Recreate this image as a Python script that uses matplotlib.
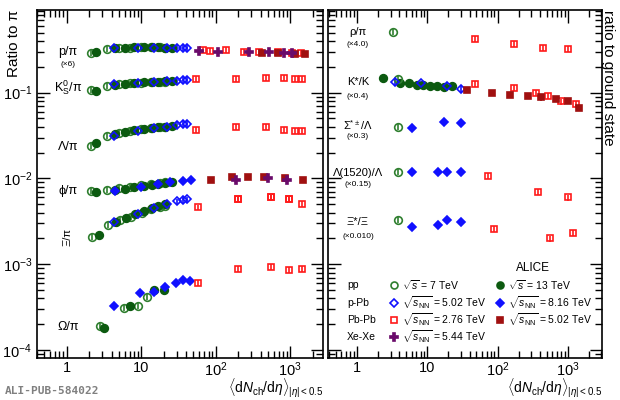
import math
import matplotlib
matplotlib.use("Agg")
import matplotlib.pyplot as plt
from matplotlib.ticker import FixedLocator, FuncFormatter, LogLocator, NullFormatter

plt.rcParams['font.family'] = ['Liberation Sans', 'DejaVu Sans']
plt.rcParams['mathtext.fontset'] = 'custom'
plt.rcParams['mathtext.rm'] = 'Liberation Sans'
plt.rcParams['mathtext.it'] = 'Liberation Sans:italic'

# ---------------- data (left panel: ratio to pi) ----------------
ppi_pp7 = ([2.1, 3.5, 5.0, 7.0, 10.0, 13.5, 18.0, 21.0], [0.29, 0.325, 0.33, 0.335, 0.34, 0.34, 0.34, 0.335])
ppi_pp13 = ([2.45, 4.5, 6.0, 8.0, 11.0, 14.0, 17.0, 21.0, 26.0], [0.30, 0.33, 0.335, 0.34, 0.34, 0.34, 0.34, 0.335, 0.335])
ppi_pPb5 = ([4.3, 9.0, 15.0, 22.0, 30.0, 36.0, 41.0], [0.33, 0.335, 0.33, 0.33, 0.335, 0.335, 0.33])
ppi_PbPb276 = ([68, 85, 137, 240, 380, 690, 1050, 1400], [0.316, 0.31, 0.316, 0.30, 0.30, 0.296, 0.29, 0.288])
ppi_PbPb502 = ([420, 690, 1150, 1600], [0.29, 0.29, 0.285, 0.28])
ppi_XeXe = ([59, 106, 280, 520, 830, 1050], [0.31, 0.30, 0.30, 0.295, 0.29, 0.29])

k0_pp7 = ([2.1, 3.5, 5.0, 7.0, 10.0, 13.5, 18.0, 21.0], [0.108, 0.12, 0.125, 0.128, 0.13, 0.132, 0.133, 0.134])
k0_pp13 = ([2.45, 4.5, 6.0, 8.0, 11.0, 14.0, 17.0, 21.0, 26.0], [0.106, 0.122, 0.126, 0.13, 0.132, 0.133, 0.134, 0.135, 0.136])
k0_pPb5 = ([4.3, 9.0, 15.0, 22.0, 30.0, 36.0, 41.0], [0.125, 0.13, 0.133, 0.136, 0.138, 0.14, 0.14])
k0_PbPb276 = ([55, 190, 470, 830, 1150, 1450], [0.146, 0.145, 0.15, 0.147, 0.146, 0.146])

lam_pp7 = ([2.1, 3.5, 5.0, 7.0, 10.0, 13.5, 18.0, 21.0], [0.024, 0.031, 0.034, 0.036, 0.038, 0.039, 0.040, 0.040])
lam_pp13 = ([2.45, 4.5, 6.0, 8.0, 11.0, 14.0, 17.0, 21.0, 26.0], [0.026, 0.033, 0.035, 0.037, 0.038, 0.039, 0.040, 0.040, 0.041])
lam_pPb5 = ([4.3, 9.0, 15.0, 22.0, 30.0, 36.0, 41.0], [0.031, 0.036, 0.039, 0.040, 0.042, 0.043, 0.043])
lam_PbPb276 = ([55, 190, 470, 830, 1150, 1450], [0.037, 0.040, 0.040, 0.037, 0.036, 0.036])

phi_pp7 = ([2.1, 3.5, 5.0, 7.0, 10.0, 13.5, 18.0, 21.0], [0.0072, 0.0074, 0.0077, 0.008, 0.0083, 0.0086, 0.0088, 0.009])
phi_pp13 = ([2.45, 4.5, 6.0, 8.0, 11.0, 14.0, 17.0, 21.0, 26.0], [0.0069, 0.0073, 0.0076, 0.0079, 0.0082, 0.0085, 0.0087, 0.0089, 0.009])
phi_pPb8 = ([4.4, 10.0, 17.0, 24.0, 36.0, 46.0], [0.0072, 0.0080, 0.0086, 0.0090, 0.0093, 0.0095])
phi_PbPb276 = ([200, 550, 950], [0.0057, 0.006, 0.0057])
phi_PbPb502 = ([86, 165, 270, 450, 840, 1470], [0.0095, 0.0103, 0.0103, 0.0105, 0.0100, 0.0095])
phi_XeXe = ([190, 500, 900], [0.0095, 0.0100, 0.0095])

xi_pp7 = ([2.2, 3.6, 5.2, 7.2, 10.2, 13.5, 18.0, 21.0], [0.0021, 0.0029, 0.0033, 0.0036, 0.0040, 0.0044, 0.0047, 0.0048])
xi_pp13 = ([2.7, 4.6, 6.2, 8.2, 11.0, 14.0, 17.0, 21.0], [0.0022, 0.0031, 0.0035, 0.0038, 0.0042, 0.0045, 0.0048, 0.0050])
xi_pPb5 = ([4.3, 9.0, 15.0, 22.0, 30.0, 36.0, 41.0], [0.0031, 0.0038, 0.0045, 0.0050, 0.0054, 0.0056, 0.0057])
xi_PbPb276 = ([57, 200, 550, 950, 1450], [0.0046, 0.0058, 0.006, 0.0058, 0.0051])

om_pp7 = ([2.8, 5.8, 9.0, 12.0], [0.00019, 0.00031, 0.00033, 0.00042])
om_pp13 = ([3.2, 7.0, 14.7, 20.0], [0.00018, 0.00033, 0.00050, 0.00050])
om_pPb8 = ([4.3, 9.6, 14.7, 21.0, 29.0, 36.0, 45.0], [0.00033, 0.00046, 0.00048, 0.00055, 0.0006, 0.00065, 0.00064])
om_PbPb276 = ([57, 200, 550, 950, 1450], [0.0006, 0.00088, 0.00093, 0.00086, 0.00089])

# ---------------- data (right panel: ratio to ground state, scaled) ----------------
rho_pp7 = ([3.2], [0.51])
rho_PbPb276 = ([47, 170, 440, 1000], [0.42, 0.37, 0.33, 0.32])

ks_pp7 = ([3.85], [0.145])
ks_pp13 = ([2.35, 4.1, 5.5, 7.2, 8.8, 11.0, 13.9, 17.5, 22.7], [0.149, 0.130, 0.13, 0.124, 0.124, 0.12, 0.12, 0.117, 0.12])
ks_pPb5 = ([3.5, 8.2, 19.0, 30.5], [0.134, 0.128, 0.12, 0.111])
ks_PbPb276 = ([47, 170, 350, 530, 790, 1300], [0.127, 0.114, 0.10, 0.092, 0.079, 0.074])
ks_PbPb502 = ([37, 82, 150, 270, 420, 670, 1000, 1450], [0.108, 0.10, 0.095, 0.092, 0.088, 0.085, 0.081, 0.067])

sig_pp7 = ([3.85], [0.040])
sig_pPb5 = ([6.1, 17.0, 30.5], [0.039, 0.045, 0.044])

l1520_pp7 = ([3.85], [0.012])
l1520_pPb5 = ([6.1, 14.0, 19.0, 30.5], [0.0118, 0.0118, 0.0118, 0.0118])
l1520_PbPb276 = ([72, 370, 1000], [0.0106, 0.0069, 0.0060])

xis_pp7 = ([3.85], [0.0033])
xis_pPb5 = ([6.1, 14.0, 19.0, 30.5], [0.0027, 0.0029, 0.0033, 0.0031])
xis_PbPb276 = ([88, 550, 1200], [0.0026, 0.0020, 0.0023])

# ---------------- styles ----------------
GREEN7 = '#2f7f2f'
GREEN13 = '#0c5a10'
BLUE = '#1010ff'
RED = '#ff1a1a'
DRED = '#a01010'
PURP = '#6a0a6a'
styles = {
    'pp7': dict(marker='o', mfc='none', mec=GREEN7, color=GREEN7, ms=5.5),
    'pp13': dict(marker='o', mfc=GREEN13, mec=GREEN13, color=GREEN13, ms=5.5),
    'pPb5': dict(marker='D', mfc='none', mec=BLUE, color=BLUE, ms=4.5),
    'pPb8': dict(marker='D', mfc=BLUE, mec=BLUE, color=BLUE, ms=4.5),
    'PbPb276': dict(marker='s', mfc='none', mec=RED, color=RED, ms=4.5),
    'PbPb502': dict(marker='s', mfc=DRED, mec=DRED, color=DRED, ms=4.5),
    'XeXe': dict(marker='P', mfc=PURP, mec=PURP, color=PURP, ms=6),
}

def draw(ax, data, key):
    x, y = data
    st = styles[key]
    yerr = [v * 0.08 for v in y]
    ax.errorbar(x, y, yerr=yerr, fmt='none', ecolor=st['color'], elinewidth=1.2, capsize=0, zorder=3)
    ax.plot(x, y, linestyle='none', marker=st['marker'], mfc=st['mfc'], mec=st['mec'],
            ms=st['ms'], mew=1.2, zorder=4)

fig = plt.figure(figsize=(6.2, 4.0), dpi=100)
W, H = 620, 400
axL = fig.add_axes([37 / W, (H - 358) / H, 286 / W, 348 / H])
axR = fig.add_axes([328 / W, (H - 358) / H, 274 / W, 348 / H])

for d, k in [(ppi_pp7, 'pp7'), (ppi_pp13, 'pp13'), (ppi_pPb5, 'pPb5'), (ppi_PbPb276, 'PbPb276'),
             (ppi_PbPb502, 'PbPb502'), (ppi_XeXe, 'XeXe'),
             (k0_pp7, 'pp7'), (k0_pp13, 'pp13'), (k0_pPb5, 'pPb5'), (k0_PbPb276, 'PbPb276'),
             (lam_pp7, 'pp7'), (lam_pp13, 'pp13'), (lam_pPb5, 'pPb5'), (lam_PbPb276, 'PbPb276'),
             (phi_pp7, 'pp7'), (phi_pp13, 'pp13'), (phi_pPb8, 'pPb8'), (phi_PbPb276, 'PbPb276'),
             (phi_PbPb502, 'PbPb502'), (phi_XeXe, 'XeXe'),
             (xi_pp7, 'pp7'), (xi_pp13, 'pp13'), (xi_pPb5, 'pPb5'), (xi_PbPb276, 'PbPb276'),
             (om_pp7, 'pp7'), (om_pp13, 'pp13'), (om_pPb8, 'pPb8'), (om_PbPb276, 'PbPb276')]:
    draw(axL, d, k)

for d, k in [(rho_pp7, 'pp7'), (rho_PbPb276, 'PbPb276'),
             (ks_pp13, 'pp13'), (ks_pp7, 'pp7'), (ks_pPb5, 'pPb5'), (ks_PbPb276, 'PbPb276'), (ks_PbPb502, 'PbPb502'),
             (sig_pp7, 'pp7'), (sig_pPb5, 'pPb8'),
             (l1520_pp7, 'pp7'), (l1520_pPb5, 'pPb8'), (l1520_PbPb276, 'PbPb276'),
             (xis_pp7, 'pp7'), (xis_pPb5, 'pPb8'), (xis_PbPb276, 'PbPb276')]:
    draw(axR, d, k)

def xfmt(v, p):
    if abs(v - 1) < 1e-9:
        return '1'
    if abs(v - 10) < 1e-9:
        return '10'
    return r'$10^{%d}$' % round(math.log10(v))

def yfmt(v, p):
    return r'$10^{%d}$' % round(math.log10(v))

for ax, xl in [(axL, (0.40, 2750)), (axR, (0.386, 3060))]:
    ax.set_xscale('log'); ax.set_yscale('log')
    ax.set_xlim(*xl)
    ax.set_ylim(8.07e-5, 0.92)
    ax.xaxis.set_major_locator(FixedLocator([1, 10, 100, 1000]))
    ax.xaxis.set_minor_locator(LogLocator(base=10, subs=range(2, 10), numticks=20))
    ax.xaxis.set_major_formatter(FuncFormatter(xfmt))
    ax.xaxis.set_minor_formatter(NullFormatter())
    ax.yaxis.set_major_locator(FixedLocator([1e-4, 1e-3, 1e-2, 1e-1]))
    ax.yaxis.set_minor_locator(LogLocator(base=10, subs=range(2, 10), numticks=20))
    ax.yaxis.set_minor_formatter(NullFormatter())
    ax.tick_params(which='both', direction='in', top=True, right=True, labelsize=10.5, width=1)
    ax.tick_params(axis='x', pad=2)
    ax.tick_params(which='major', length=9)
    ax.tick_params(which='minor', length=5)
    for s in ax.spines.values():
        s.set_linewidth(1.2)

axL.yaxis.set_major_formatter(FuncFormatter(yfmt))
axR.yaxis.set_major_formatter(NullFormatter())

xlab = r'$\langle$d$N_{\rm ch}$/d$\eta\rangle_{|\eta|< 0.5}$'
fig.text(323 / W, 1 - 399 / H, xlab, fontsize=10, ha='right', va='bottom')
fig.text(602 / W, 1 - 399 / H, xlab, fontsize=10, ha='right', va='bottom')
fig.text(14 / W, 1 - 10 / H, 'Ratio to π', fontsize=11, rotation=90, ha='center', va='top')
fig.text(608 / W, 1 - 10 / H, 'ratio to ground state', fontsize=11, rotation=270, ha='center', va='top')

def ftext(px, py, s, size=9, **kw):
    fig.text(px / W, 1 - py / H, s, fontsize=size, ha='center', va='center', **kw)

# species labels, left
ftext(68, 52, 'p/π')
ftext(68, 65, '(×6)', 6)
ftext(68, 88, r'K$^{0}_{\rm S}$/π')
ftext(68, 147, 'Λ/π')
ftext(68, 191, 'ϕ/π')
ftext(68, 237, 'Ξ/π', 8, rotation=90)
ftext(68, 327, 'Ω/π')
# species labels, right
ftext(358, 32, 'ρ/π', 8)
ftext(358, 44, '(×4.0)', 6)
ftext(358, 82, 'K*/K', 8)
ftext(358, 97, '(×0.4)', 6)
ftext(358, 125, r'Σ$^{*\pm}$/Λ', 8)
ftext(358, 137, '(×0.3)', 6)
ftext(358, 173, 'Λ(1520)/Λ', 8)
ftext(358, 185, '(×0.15)', 6)
ftext(358, 222, 'Ξ*/Ξ', 8)
ftext(358, 237, '(×0.010)', 6)

# legend
fs = 7.5
ftext(533, 268, 'ALICE', 8.5)
rows = [('pp', 285, ('pp7', r'$\sqrt{s}$ = 7 TeV'), ('pp13', r'$\sqrt{s}$ = 13 TeV')),
        ('p-Pb', 303, ('pPb5', r'$\sqrt{s_{\rm NN}}$ = 5.02 TeV'), ('pPb8', r'$\sqrt{s_{\rm NN}}$ = 8.16 TeV')),
        ('Pb-Pb', 320, ('PbPb276', r'$\sqrt{s_{\rm NN}}$ = 2.76 TeV'), ('PbPb502', r'$\sqrt{s_{\rm NN}}$ = 5.02 TeV')),
        ('Xe-Xe', 337, ('XeXe', r'$\sqrt{s_{\rm NN}}$ = 5.44 TeV'), None)]
for name, py, e1, e2 in rows:
    fig.text(347 / W, 1 - py / H, name, fontsize=fs, va='center')
    for e, mx in [(e1, 394), (e2, 500)]:
        if e is None:
            continue
        st = styles[e[0]]
        xf, yf = axR.transAxes.inverted().transform(fig.transFigure.transform((mx / W, 1 - py / H)))
        axR.plot([xf], [yf], transform=axR.transAxes, linestyle='none', marker=st['marker'],
                 mfc=st['mfc'], mec=st['mec'], ms=st['ms'] - 0.5, mew=1.2, clip_on=False)
        fig.text((mx + 8) / W, 1 - py / H, e[1], fontsize=fs, va='center')

fig.text(5 / W, 1 - 391 / H, 'ALI-PUB-584022', fontsize=8, family='DejaVu Sans Mono',
         color='#808080', va='center', weight='bold')

fig.savefig('out.png', dpi=100)
